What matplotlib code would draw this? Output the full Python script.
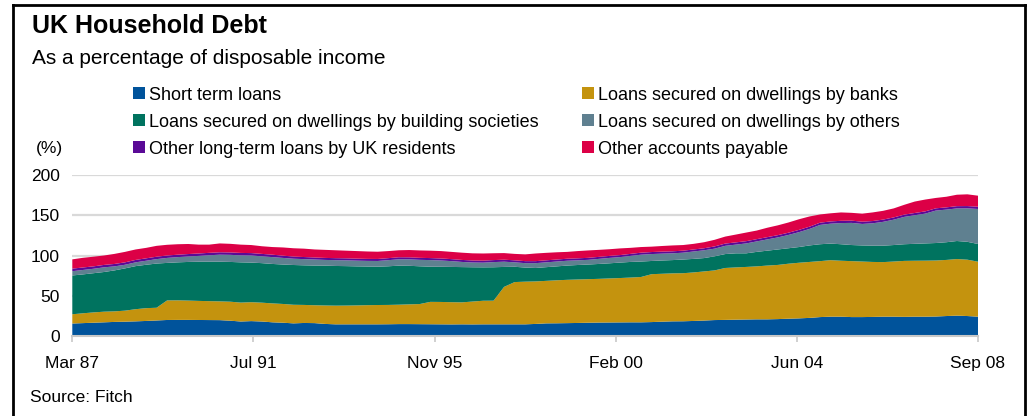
import matplotlib
matplotlib.use("Agg")
import matplotlib.pyplot as plt
import matplotlib.dates as mdates
import numpy as np
import pandas as pd
from matplotlib.patches import Rectangle
from matplotlib.lines import Line2D

# ---------------- data (quarterly, % of disposable income) ----------------
quarters = pd.date_range("1987-03-31", periods=87, freq=pd.offsets.QuarterEnd())

short_term = [
    15.5, 16.0, 16.5, 17.0, 17.5, 17.8, 18.2, 18.7, 19.3, 19.9,
    20.0, 20.0, 19.9, 19.8, 19.7, 19.0, 18.0, 18.5, 18.0, 17.0,
    16.5, 15.7, 16.2, 16.0, 15.0, 14.5, 14.5, 14.5, 14.5, 14.5,
    14.6, 14.8, 14.8, 14.7, 14.6, 14.5, 14.4, 14.5, 14.4, 14.5,
    14.5, 14.5, 14.5, 14.5, 15.0, 15.7, 15.8, 16.0, 16.2, 16.5,
    16.7, 16.8, 16.9, 17.0, 17.0, 17.3, 17.8, 18.2, 18.3, 18.7,
    19.2, 19.8, 20.0, 20.3, 20.5, 20.7, 20.7, 21.0, 21.5, 21.9,
    22.5, 23.5, 24.0, 24.0, 23.5, 23.5, 23.7, 24.0, 24.0, 23.8,
    24.0, 24.0, 24.2, 24.8, 25.3, 24.8, 24.0,
]
banks = [
    11.5, 12.2, 12.8, 13.2, 13.1, 13.7, 15.1, 15.9, 15.8, 24.3,
    24.3, 24.0, 23.7, 23.5, 23.3, 23.6, 23.5, 23.5, 23.4, 23.5,
    23.3, 23.1, 22.4, 22.2, 22.9, 23.2, 23.3, 23.5, 23.8, 24.0,
    24.0, 24.1, 24.5, 25.0, 27.8, 27.8, 27.6, 27.3, 28.4, 29.3,
    29.4, 46.5, 52.5, 53.0, 52.8, 52.8, 53.4, 53.8, 54.0, 54.1,
    54.3, 54.7, 55.1, 55.6, 56.3, 59.5, 59.5, 59.6, 59.7, 60.3,
    61.0, 61.7, 64.5, 64.9, 65.3, 65.8, 66.8, 67.3, 68.3, 69.1,
    69.5, 69.5, 70.2, 69.5, 69.5, 69.0, 68.3, 67.8, 68.5, 69.5,
    69.5, 69.6, 69.6, 69.7, 70.3, 70.0, 68.3,
]
building_societies = [
    48.2, 48.3, 48.7, 49.3, 50.9, 52.5, 53.5, 53.9, 54.9, 46.6,
    47.2, 48.0, 48.7, 49.0, 49.3, 49.4, 50.0, 49.2, 49.1, 49.0,
    49.0, 49.4, 49.2, 49.3, 49.5, 49.3, 49.0, 48.5, 48.0, 47.6,
    48.0, 48.5, 47.9, 46.9, 43.7, 43.7, 43.8, 43.8, 42.6, 41.5,
    41.5, 24.8, 19.0, 17.5, 16.7, 17.0, 17.3, 17.7, 18.0, 18.2,
    18.5, 18.8, 19.2, 19.4, 19.2, 16.4, 16.5, 16.5, 17.0, 16.8,
    16.6, 17.5, 17.3, 17.5, 16.9, 18.0, 18.5, 19.2, 19.2, 19.5,
    20.5, 21.0, 20.6, 20.5, 20.0, 20.0, 20.2, 20.4, 20.5, 20.7,
    21.0, 21.4, 21.7, 22.0, 22.4, 22.2, 22.0,
]
others = [
    5.3, 5.5, 5.5, 5.8, 5.0, 4.5, 4.7, 5.0, 5.5, 6.2,
    6.5, 6.8, 7.2, 8.0, 8.7, 8.8, 8.7, 8.8, 8.5, 8.5,
    8.2, 7.8, 7.7, 7.5, 7.1, 7.2, 7.2, 7.1, 7.0, 7.1,
    7.6, 7.9, 8.0, 8.0, 8.2, 7.8, 7.2, 6.4, 5.9, 5.8,
    6.4, 6.5, 5.5, 5.5, 6.0, 6.0, 6.0, 6.0, 5.8, 5.8,
    6.3, 6.7, 6.8, 7.5, 8.5, 8.6, 8.5, 8.4, 8.5, 9.2,
    9.7, 9.5, 10.2, 10.8, 12.3, 13.0, 14.0, 15.0, 16.5, 18.5,
    20.5, 24.0, 24.7, 26.3, 27.5, 26.7, 27.8, 29.6, 31.5, 34.0,
    35.5, 37.0, 40.3, 40.5, 40.5, 41.6, 43.5,
]
other_long_term = [
    3.2, 3.1, 3.0, 3.0, 3.0, 3.0, 3.0, 3.0, 3.0, 3.0,
    3.0, 3.0, 3.0, 3.0, 3.0, 3.0, 3.0, 3.0, 3.0, 3.0,
    2.8, 2.7, 2.6, 2.5, 2.5, 2.5, 2.5, 2.5, 2.5, 2.5,
    2.5, 2.5, 2.5, 2.5, 2.5, 2.5, 2.5, 2.5, 2.5, 2.5,
    2.5, 2.5, 2.5, 2.5, 2.5, 2.5, 2.5, 2.5, 2.5, 2.5,
    2.5, 2.5, 2.5, 2.5, 2.5, 2.5, 2.5, 2.5, 2.5, 2.5,
    2.5, 2.8, 2.8, 2.8, 2.8, 2.8, 2.8, 2.8, 2.8, 2.8,
    2.8, 2.8, 2.8, 2.8, 2.8, 2.8, 2.8, 2.8, 2.8, 2.8,
    2.8, 2.8, 2.8, 2.8, 2.8, 2.8, 2.8,
]
accounts_payable = [
    11.5, 12.0, 12.0, 11.7, 12.5, 13.0, 13.0, 13.0, 13.5, 13.3,
    13.0, 12.5, 11.0, 10.2, 11.0, 10.7, 10.3, 10.0, 9.5, 9.5,
    10.2, 10.3, 10.4, 10.0, 10.0, 9.8, 9.5, 9.4, 9.2, 9.0,
    8.8, 8.7, 9.1, 9.2, 9.2, 9.2, 9.0, 9.0, 8.9, 8.9,
    8.5, 8.2, 8.0, 8.4, 9.5, 9.3, 9.0, 8.5, 9.0, 9.2,
    8.7, 8.3, 8.3, 7.5, 7.0, 6.7, 7.0, 7.3, 7.0, 7.0,
    7.5, 8.2, 8.7, 9.7, 10.7, 10.7, 11.7, 12.2, 12.7, 13.2,
    12.7, 10.2, 10.1, 10.4, 9.7, 10.0, 10.7, 10.9, 11.2, 12.2,
    14.2, 14.7, 12.9, 13.2, 14.2, 14.6, 13.7,
]

series_names = [
    "Short term loans",
    "Loans secured on dwellings by banks",
    "Loans secured on dwellings by building societies",
    "Loans secured on dwellings by others",
    "Other long-term loans by UK residents",
    "Other accounts payable",
]
colors = ["#00539b", "#c4930e", "#00735f", "#5f8090", "#5a0a96", "#dc0046"]
x_tick_labels = ["Mar 87", "Jul 91", "Nov 95", "Feb 00", "Jun 04", "Sep 08"]
y_ticks = [0, 50, 100, 150, 200]

# ---------------- figure ----------------
W, H = 1029, 416
plt.rcParams["font.family"] = ["Liberation Sans", "DejaVu Sans"]
fig = plt.figure(figsize=(W / 100, H / 100), dpi=100)

def fx(px):
    return px / W

def fy(py):
    return 1 - py / H

ax = fig.add_axes([fx(72.3), fy(336), fx(978) - fx(72.3), fy(175) - fy(336)])

xnum = mdates.date2num(quarters.to_pydatetime())
ax.stackplot(xnum, short_term, banks, building_societies, others,
             other_long_term, accounts_payable, colors=colors,
             linewidth=0, zorder=2)

ax.set_xlim(xnum[0], xnum[-1])
ax.set_ylim(0, 200)
ax.set_yticks(y_ticks)
ax.yaxis.grid(True, color="#d9d9d9", linewidth=1.6, zorder=0)
ax.set_axisbelow(True)

ax.set_xticks(np.linspace(xnum[0], xnum[-1], len(x_tick_labels)))
ax.set_xticklabels(x_tick_labels)

for side in ["left", "right", "top"]:
    ax.spines[side].set_visible(False)
ax.spines["bottom"].set_color("#c8c8c8")
ax.spines["bottom"].set_linewidth(1.5)
ax.spines["bottom"].set_zorder(3)

ax.tick_params(axis="x", direction="out", length=4.5, width=1.2,
               color="#c8c8c8", labelsize=12.5, pad=10, labelcolor="black")
ax.tick_params(axis="y", length=0, labelsize=12.5, pad=9, labelcolor="black")

# titles
fig.text(fx(32), fy(33), "UK Household Debt", fontsize=18, fontweight="bold",
         va="baseline", ha="left")
fig.text(fx(32), fy(64), "As a percentage of disposable income", fontsize=15,
         va="baseline", ha="left")
fig.text(fx(36), fy(153), "(%)", fontsize=12.5, va="baseline", ha="left")
fig.text(fx(30), fy(402), "Source: Fitch", fontsize=12.5, va="baseline", ha="left")

# legend (2 columns x 3 rows)
col_x = [133, 582]
row_base = [100, 127, 154]
for i, (name, c) in enumerate(zip(series_names, colors)):
    col = 0 if i in (0, 2, 4) else 1
    row = [0, 0, 1, 1, 2, 2][i]
    sx = col_x[col]
    by = row_base[row]
    fig.add_artist(Rectangle((fx(sx), fy(by - 1)), 12 / W, 12 / H,
                             transform=fig.transFigure, facecolor=c,
                             edgecolor="none"))
    fig.text(fx(sx + 16), fy(by), name, fontsize=13, va="baseline", ha="left")

# outer frame
fig.add_artist(Line2D([fx(13), fx(13)], [0, fy(5)], color="black", lw=2,
                      transform=fig.transFigure))
fig.add_artist(Line2D([fx(13), fx(1025)], [fy(5), fy(5)], color="black", lw=2,
                      transform=fig.transFigure))
fig.add_artist(Line2D([fx(1025), fx(1025)], [0, fy(5)], color="black", lw=2,
                      transform=fig.transFigure))

fig.savefig("out.png", dpi=100)
